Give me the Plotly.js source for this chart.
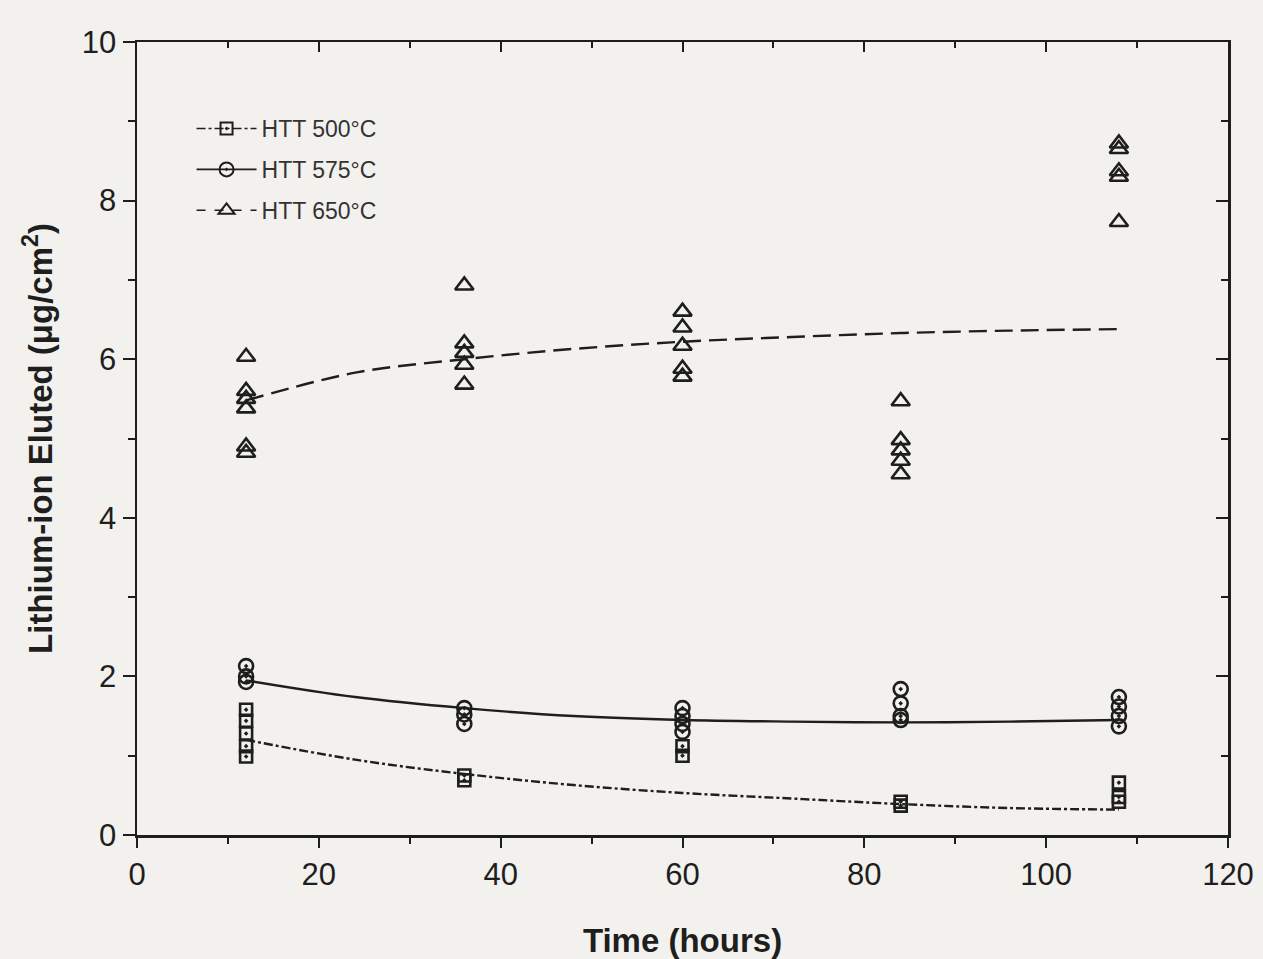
<!DOCTYPE html>
<html>
<head>
<meta charset="utf-8">
<script src="https://cdn.plot.ly/plotly-3.0.1.min.js"></script>
<style>html,body{margin:0;padding:0;background:#f3f1ee;}#chart{width:1263px;height:959px;}</style>
</head>
<body>
<div id="chart"></div>
<script>
// Measured data (time in hours, Li-ion eluted in ug/cm2)
const x500 = [12,12,12,12,12, 36,36, 60,60, 84,84, 108,108,108];
const y500 = [1.58,1.44,1.28,1.12,0.99, 0.75,0.69, 1.12,1.0, 0.42,0.37, 0.66,0.48,0.42];
const x575 = [12,12,12, 36,36,36, 60,60,60,60, 84,84,84,84, 108,108,108,108];
const y575 = [2.13,2.0,1.93, 1.6,1.52,1.4, 1.6,1.5,1.4,1.3, 1.84,1.66,1.5,1.45, 1.74,1.62,1.5,1.37];
const x650 = [12,12,12,12,12,12, 36,36,36,36,36, 60,60,60,60,60, 84,84,84,84,84, 108,108,108,108,108];
const y650 = [6.03,5.6,5.5,5.38,4.9,4.82, 6.93,6.2,6.08,5.93,5.68, 6.6,6.4,6.17,5.88,5.78, 5.47,4.98,4.85,4.72,4.55, 8.72,8.65,8.37,8.3,7.73];
// Fit curves
const fitX = [12,24,36,48,60,72,84,96,108];
const fit500 = [1.2,0.95,0.77,0.63,0.53,0.46,0.39,0.34,0.32];
const fit575 = [1.95,1.74,1.6,1.5,1.45,1.43,1.42,1.43,1.45];
const fit650 = [5.48,5.83,6.0,6.13,6.22,6.28,6.33,6.36,6.38];
const seriesNames = ['HTT 500°C','HTT 575°C','HTT 650°C'];

const ink = '#1e1e1e';
const mk = (sym, size, w) => ({symbol: sym, size: size, color: ink, line: {color: ink, width: w || 2.6}});

const traces = [
  {x: fitX, y: fit500, mode: 'lines', line: {color: ink, width: 2.4, dash: 'dashdot', shape: 'spline'}, showlegend: false, hoverinfo: 'skip'},
  {x: fitX, y: fit575, mode: 'lines', line: {color: ink, width: 2.4, dash: 'solid', shape: 'spline'}, showlegend: false, hoverinfo: 'skip'},
  {x: fitX, y: fit650, mode: 'lines', line: {color: ink, width: 2.4, dash: '18px,8px', shape: 'spline'}, showlegend: false, hoverinfo: 'skip'},
  {x: x500, y: y500, mode: 'markers', marker: mk('square-open-dot', 12), showlegend: false},
  {x: x575, y: y575, mode: 'markers', marker: mk('circle-open-dot', 14), showlegend: false},
  {x: x650, y: y650, mode: 'markers', marker: mk('triangle-up-open', 16), showlegend: false},
  // legend entries
  {x: [null], y: [null], name: seriesNames[0], mode: 'lines+markers', legendgroup: 'a', line: {color: ink, width: 1.6, dash: 'dashdot'}, marker: mk('square-open-dot', 12, 2)},
  {x: [null], y: [null], name: seriesNames[1], mode: 'lines+markers', legendgroup: 'b', line: {color: ink, width: 1.6, dash: 'solid'}, marker: mk('circle-open-dot', 14, 2)},
  {x: [null], y: [null], name: seriesNames[2], mode: 'lines+markers', legendgroup: 'c', line: {color: ink, width: 1.6, dash: 'dash'}, marker: mk('triangle-up-open', 14, 2)}
];

const tickFont = {family: 'Liberation Sans, Arial, sans-serif', size: 31, color: ink};
const titleFont = {family: 'Liberation Sans, Arial, sans-serif', size: 33, color: ink, weight: 'bold'};

const layout = {
  width: 1263, height: 959,
  paper_bgcolor: '#f3f1ee', plot_bgcolor: '#f3f1ee',
  margin: {l: 137, r: 35, t: 42, b: 124},
  xaxis: {
    range: [0, 120], tick0: 0, dtick: 20, ticks: 'outside', ticklen: 10, tickwidth: 2, tickcolor: ink,
    minor: {dtick: 10, ticks: 'outside', ticklen: 6, tickwidth: 2, tickcolor: ink},
    showline: true, linecolor: ink, linewidth: 2.5, showgrid: false, zeroline: false,
    tickfont: tickFont,
    title: {text: 'Time (hours)', font: titleFont, standoff: 38}
  },
  yaxis: {
    range: [0, 10], tick0: 0, dtick: 2, ticks: 'outside', ticklen: 12, tickwidth: 2, tickcolor: ink,
    minor: {dtick: 1, ticks: 'outside', ticklen: 7, tickwidth: 2, tickcolor: ink},
    showline: true, linecolor: ink, linewidth: 2.5, showgrid: false, zeroline: false,
    tickfont: tickFont,
    title: {text: 'Lithium-ion Eluted (μg/cm<sup>2</sup>)', font: titleFont, standoff: 20}
  },
  xaxis2: {
    overlaying: 'x', side: 'top', range: [0, 120], dtick: 20, ticks: 'inside', ticklen: 10, tickwidth: 2, tickcolor: ink,
    minor: {dtick: 10, ticks: 'inside', ticklen: 6, tickwidth: 2, tickcolor: ink},
    showticklabels: false, showline: true, linecolor: ink, linewidth: 2.5, showgrid: false, zeroline: false
  },
  yaxis2: {
    overlaying: 'y', side: 'right', range: [0, 10], dtick: 2, ticks: 'inside', ticklen: 12, tickwidth: 2, tickcolor: ink,
    minor: {dtick: 1, ticks: 'inside', ticklen: 7, tickwidth: 2, tickcolor: ink},
    showticklabels: false, showline: true, linecolor: ink, linewidth: 2.5, showgrid: false, zeroline: false
  },
  showlegend: true,
  legend: {
    x: 0.05, y: 0.918, xanchor: 'left', yanchor: 'top',
    bgcolor: 'rgba(0,0,0,0)', font: {family: 'Liberation Sans, Arial, sans-serif', size: 23, color: '#333'},
    tracegroupgap: 8, itemwidth: 60
  }
};

// attach a hidden trace to the secondary axes so they render
traces.push({x: [null], y: [null], xaxis: 'x2', yaxis: 'y2', showlegend: false, mode: 'markers', hoverinfo: 'skip'});

Plotly.newPlot('chart', traces, layout, {displayModeBar: false, staticPlot: true});
</script>
</body>
</html>
